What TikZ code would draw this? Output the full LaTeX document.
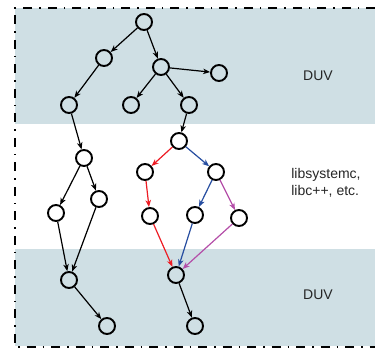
\documentclass[tikz,border=0pt]{standalone}
\usepackage{fontspec}
\usetikzlibrary{arrows.meta}
\setsansfont{Liberation Sans}
\definecolor{duvblue}{RGB}{207,223,228}
\definecolor{libred}{RGB}{237,28,36}
\definecolor{libblue}{RGB}{38,77,160}
\definecolor{libmag}{RGB}{180,78,168}
\begin{document}
\begin{tikzpicture}[>={Stealth[length=7pt,width=5.5pt,inset=2pt]},x=1pt,y=-1pt,
  state/.style={draw=black,circle,inner sep=0pt,minimum size=16pt,line width=1.9pt},
  call/.style={->,line width=1.2pt},
  label/.style={font=\sffamily\fontsize{14}{17}\selectfont,text=black!85,align=left}]

\useasboundingbox (0,0) rectangle (375,352);

% the two DUV bands and the frame
\fill [duvblue] (15,8) rectangle (375,124);
\fill [duvblue] (15,249) rectangle (375,346);
\draw [line width=1.9pt,dash pattern=on 9pt off 7pt on 1.5pt off 7pt]
  (375,8) -- (15,8) -- (15,347) -- (375,347);

% top tree
\node [state] at (144,22) (t0) {};
\node [state] at (104,58) (t1) {};
\node [state] at (161,67) (t2) {};
\node [state] at (219,73) (t3) {};
\node [state] at (69,105) (t4) {};
\node [state] at (131,105) (t5) {};
\node [state] at (189,105) (t6) {};

% middle part
\node [state] at (84,158) (m0) {};
\node [state] at (56,213) (m1) {};
\node [state] at (99,199) (m2) {};
\node [state] at (179,141) (m3) {};
\node [state] at (145,172) (m4) {};
\node [state] at (216,172) (m5) {};
\node [state] at (150,216) (m6) {};
\node [state] at (195,215) (m7) {};
\node [state] at (239,218) (m8) {};

% bottom part
\node [state] at (69,280) (b0) {};
\node [state] at (107,326) (b1) {};
\node [state] at (176,275) (b2) {};
\node [state] at (195,326) (b3) {};

\draw [call] (t0) to (t1);
\draw [call] (t0) to (t2);
\draw [call] (t2) to (t3);
\draw [call] (t2) to (t5);
\draw [call] (t2) to (t6);
\draw [call] (t1) to (t4);

\draw [call] (t4) to (m0);
\draw [call] (t6) to (m3);
\draw [call] (m0) to (m1);
\draw [call] (m0) to (m2);
\draw [call] (m1) to (b0);
\draw [call] (m2) to (b0);
\draw [call] (b0) to (b1);

\draw [call,libred] (m3) to (m4);
\draw [call,libred] (m4) to (m6);
\draw [call,libred] (m6) to (b2);
\draw [call,libblue] (m3) to (m5);
\draw [call,libblue] (m5) to (m7);
\draw [call,libblue] (m7) to (b2);
\draw [call,libmag] (m5) to (m8);
\draw [call,libmag] (m8) to (b2);
\draw [call] (b2) to (b3);

\node [label] at (318,76) (duvtop) {DUV};
\node [label] at (326,183) (lib) {libsystemc,\\libc++, etc.};
\node [label] at (318,295) (duvbot) {DUV};

\end{tikzpicture}
\end{document}
